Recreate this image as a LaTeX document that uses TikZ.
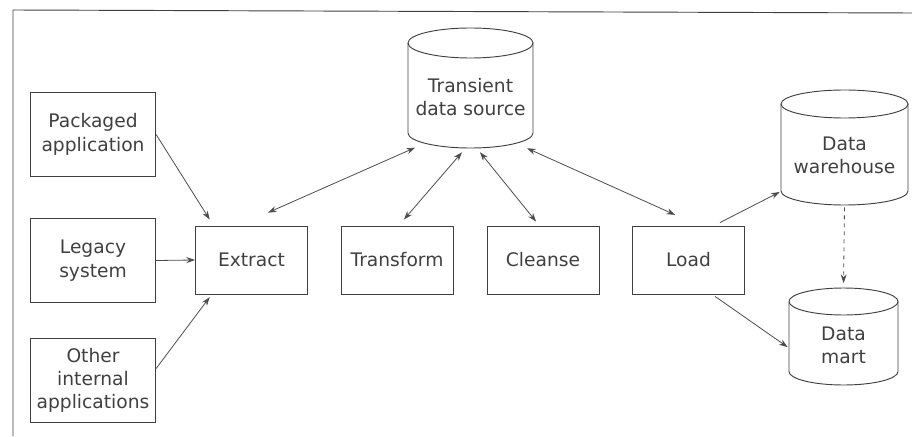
\documentclass[tikz,border=0pt]{standalone}
\usepackage{fontspec}
\setmainfont{DejaVu Sans}
\usetikzlibrary{arrows.meta}

\tikzset{
  box/.style={draw=black!75, line width=0.7pt, align=center, text=black!75,
    minimum width=84pt, minimum height=51pt, inner sep=2pt},
  srcbox/.style={box, minimum width=94pt, minimum height=63pt},
  drumlbl/.style={align=center, text=black!75},
  link/.style={draw=black!70, line width=0.6pt, -{Stealth[length=6.5pt,width=4.5pt]}},
  twoway/.style={link, {Stealth[length=6.5pt,width=4.5pt]}-{Stealth[length=6.5pt,width=4.5pt]}},
}

% cylinder: name, cx, cy, rx, half body height, ry
\newcommand{\datadrum}[6]{%
  \draw[draw=black!75, line width=0.7pt] (#2-#4,#3+#5) -- (#2-#4,#3-#5)
    arc[start angle=180, end angle=360, x radius=#4, y radius=#6] -- (#2+#4,#3+#5);
  \draw[draw=black!75, line width=0.7pt] (#2,#3+#5) ellipse [x radius=#4, y radius=#6];
  \node[inner sep=0pt, minimum width={2*#4*0.75pt},
    minimum height={(2*#5+2*#6)*0.75pt}] (#1) at (#2,#3) {};
}

\begin{document}
\begin{tikzpicture}[x=0.75pt, y=0.75pt, font=\fontsize{14}{17.5}\selectfont]
  \useasboundingbox (0,0) rectangle (912,436);

  % frame
  \draw[black!75, line width=0.7pt] (912,423) -- (13,426) -- (13,0);

  % sources
  \node[srcbox] (pkg) at (93,301.5) {Packaged\\application};
  \node[srcbox] (legacy) at (93,175.5) {Legacy\\system};
  \node[srcbox] (other) at (93,55.5) {Other\\internal\\applications};

  % steps
  \node[box] (extract) at (251.5,176) {Extract};
  \node[box] (transform) at (397,176) {Transform};
  \node[box] (cleanse) at (543,176) {Cleanse};
  \node[box] (load) at (688.5,176) {Load};

  % stores
  \datadrum{tds}{470.5}{348}{62.5}{45}{15}
  \node[drumlbl] (tdslbl) at (470.5,339) {Transient\\data source};
  \datadrum{wh}{844.5}{288.5}{63.5}{43.5}{14}
  \node[drumlbl] (whlbl) at (844.5,281) {Data\\warehouse};
  \datadrum{mart}{843.5}{99.5}{54.5}{35}{13.5}
  \node[drumlbl] (martlbl) at (843.5,91) {Data\\mart};

  % into extract
  \draw[link] (pkg.east) -- ([xshift=11pt,yshift=4.5pt]extract.north west);
  \draw[link] (legacy.east) -- (extract.west);
  \draw[link] ([yshift=9pt]other.east) -- ([xshift=11pt,yshift=-2pt]extract.south west);

  % to and from the transient store
  \draw[twoway] ([xshift=-41.5pt,yshift=0.5pt]tds.south) -- ([xshift=12.4pt,yshift=9.7pt]extract.north);
  \draw[twoway] ([xshift=-6.4pt,yshift=-3pt]tds.south) -- ([xshift=5.2pt,yshift=4.5pt]transform.north);
  \draw[twoway] ([xshift=7.1pt,yshift=-3pt]tds.south) -- ([xshift=-5.2pt,yshift=3pt]cleanse.north);
  \draw[twoway] ([xshift=42.4pt,yshift=0pt]tds.south) -- ([xshift=-10pt,yshift=8pt]load.north);

  % out of load
  \draw[link] ([xshift=23.6pt,yshift=2.2pt]load.north) -- ([xshift=-0.8pt,yshift=-33.4pt]wh.west);
  \draw[link] ([xshift=20pt,yshift=-1.5pt]load.south) -- ([xshift=-0.8pt,yshift=-8pt]mart.west);
  \draw[link, dashed, shorten <=1.5pt, shorten >=3.5pt] (wh.south) -- (mart.north);
\end{tikzpicture}
\end{document}
